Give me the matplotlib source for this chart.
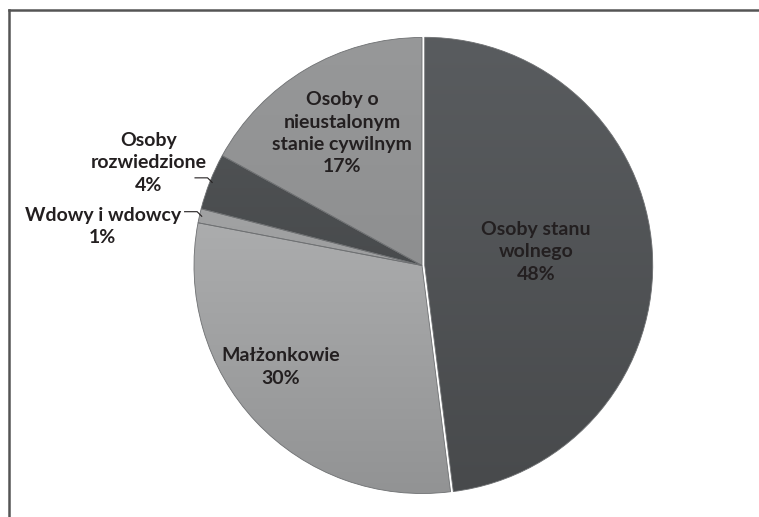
import numpy as np
import matplotlib
matplotlib.use("Agg")
import matplotlib.pyplot as plt
from matplotlib.lines import Line2D

# data
categories = ["Osoby stanu\nwolnego", "Małżonkowie", "Wdowy i wdowcy",
              "Osoby\nrozwiedzione", "Osoby o\nnieustalonym\nstanie cywilnym"]
shares = [48, 30, 1, 4, 17]

# look
top_colors = ["#5a5d60", "#bfc0c1", "#b0b1b2", "#55585a", "#98999a"]
bot_colors = ["#47494b", "#909192", "#8a8b8c", "#3c3e40", "#848586"]
explode = [0.012, 0, 0, 0, 0]
label_pos = [(0.50, 0.06), (-0.62, -0.445), (-1.40, 0.17), (-1.20, 0.45), (-0.35, 0.58)]
outside = [False, False, True, True, False]

W, H = 759, 517
cx, cy, R = 422, 265.5, 228

plt.rcParams['font.family'] = ['Lato', 'DejaVu Sans']
fig = plt.figure(figsize=(W / 100, H / 100), dpi=100)
ax = fig.add_axes([0, 0, 1, 1])

wedges, _ = ax.pie(shares, startangle=90, counterclock=False, explode=explode,
                   colors=top_colors, radius=1, center=(0, 0), frame=True,
                   wedgeprops=dict(edgecolor="#6e7072", linewidth=0.6))
ax.set_xlim(-cx / R, (W - cx) / R)
ax.set_ylim(-(H - cy) / R, cy / R)
ax.axis('off')

# vertical shading inside each wedge
for w, c1, c2 in zip(wedges, top_colors, bot_colors):
    a = np.array(matplotlib.colors.to_rgb(c1))
    b = np.array(matplotlib.colors.to_rgb(c2))
    t = np.linspace(0, 1, 256)[:, None]
    img = (a[None, :] * (1 - t) + b[None, :] * t)[:, None, :]
    im = ax.imshow(img, extent=(-1.1, 1.1, -1.1, 1.1), aspect='auto',
                   interpolation='bilinear', zorder=w.get_zorder() + 0.1)
    im.set_clip_path(w)
    w.set_facecolor("none")
    w.set_zorder(w.get_zorder() + 0.2)

# labels
for w, name, pct, pos, out in zip(wedges, categories, shares, label_pos, outside):
    ax.text(pos[0], pos[1], f"{name}\n{pct}%", ha='center', va='center',
            fontsize=14, fontweight='bold', color="#231f20", linespacing=1.38,
            zorder=10)
    if out:
        ang = np.deg2rad((w.theta1 + w.theta2) / 2)
        ex, ey = np.cos(ang) * 0.99, np.sin(ang) * 0.99
        ax.plot([ex - 0.075, ex - 0.02, ex], [ey + 0.02, ey + 0.02, ey - 0.0],
                color="#231f20", lw=0.8, zorder=10)

# frame: top and left lines only
fig.add_artist(Line2D([8.5 / W, 1], [1 - 9.5 / H, 1 - 9.5 / H], color="#555555", lw=1.8))
fig.add_artist(Line2D([8.5 / W, 8.5 / W], [0, 1 - 9.5 / H], color="#555555", lw=1.8))

fig.savefig("out.png", dpi=100)
